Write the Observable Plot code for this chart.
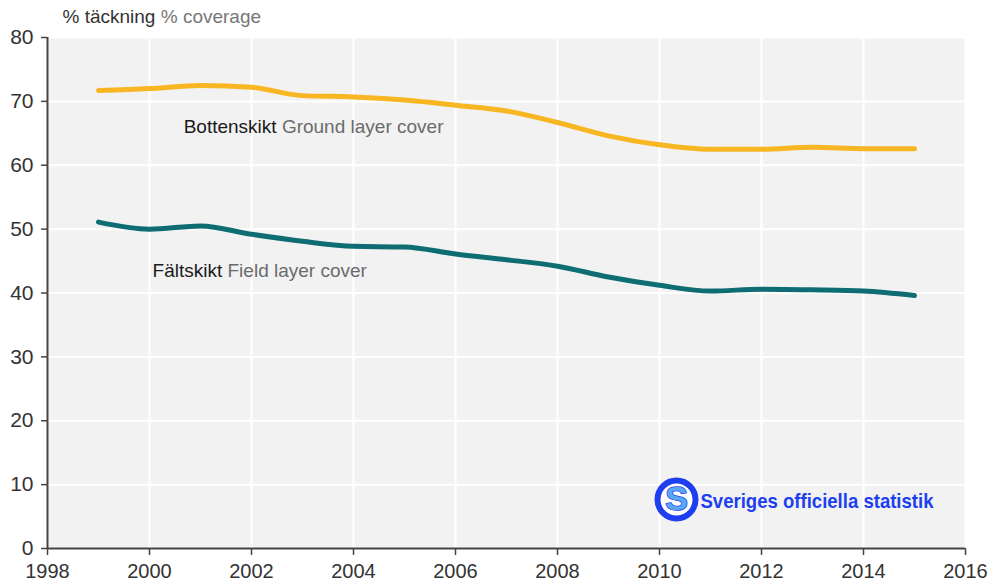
<!DOCTYPE html>
<html>
<head>
<meta charset="utf-8">
<script src="https://cdn.jsdelivr.net/npm/d3@7"></script>
<script src="https://cdn.jsdelivr.net/npm/@observablehq/plot@0.6"></script>
<style>
  html, body { margin: 0; padding: 0; background: #ffffff; }
  #chart svg { display: block; }
</style>
</head>
<body>
<div id="chart"></div>
<script>
const years = [1999, 2000, 2001, 2002, 2003, 2004, 2005, 2006, 2007, 2008, 2009, 2010, 2011, 2012, 2013, 2014, 2015];
const ground = [71.7, 72.0, 72.5, 72.2, 70.9, 70.7, 70.2, 69.4, 68.5, 66.7, 64.6, 63.2, 62.5, 62.5, 62.8, 62.6, 62.6];
const field = [51.1, 50.0, 50.5, 49.2, 48.1, 47.3, 47.2, 46.1, 45.2, 44.2, 42.5, 41.2, 40.3, 40.6, 40.5, 40.3, 39.6];
const xTicks = [1998, 2000, 2002, 2004, 2006, 2008, 2010, 2012, 2014, 2016];
const yTicks = [0, 10, 20, 30, 40, 50, 60, 70, 80];
const titleSv = "% täckning";
const titleEn = "% coverage";
const labels = [
  {sv: "Bottenskikt", en: "Ground layer cover", year: 2000.67, value: 66.0},
  {sv: "Fältskikt", en: "Field layer cover", year: 2000.06, value: 43.5}
];
const logoText = "Sveriges officiella statistik";

const FONT = "'Liberation Sans', Arial, Helvetica, sans-serif";
const ctx = document.createElement("canvas").getContext("2d");
function tw(s, size, weight) {
  ctx.font = `${weight || "normal"} ${size}px ${FONT}`;
  return ctx.measureText(s).width;
}
const labelSize = 19;
const space = tw(" ", labelSize);

const groundData = years.map((y, i) => ({year: y, value: ground[i]}));
const fieldData = years.map((y, i) => ({year: y, value: field[i]}));

const plot = Plot.plot({
  width: 994,
  height: 585,
  marginLeft: 47,
  marginRight: 29,
  marginTop: 37,
  marginBottom: 37,
  style: {fontFamily: FONT, background: "#ffffff"},
  x: {domain: [1998, 2016], ticks: xTicks, tickFormat: d => String(d)},
  y: {domain: [0, 80], ticks: yTicks},
  marks: [
    Plot.frame({fill: "#f2f2f2", stroke: "#cccccc", strokeWidth: 1}),
    Plot.gridX(xTicks, {stroke: "#ffffff", strokeOpacity: 1, strokeWidth: 2}),
    Plot.gridY(yTicks, {stroke: "#ffffff", strokeOpacity: 1, strokeWidth: 2}),
    Plot.ruleX([1998], {stroke: "#444444", strokeWidth: 2}),
    Plot.ruleY([0], {stroke: "#444444", strokeWidth: 2}),
    Plot.axisX(xTicks, {tickSize: 7, tickPadding: 8, fontSize: 20, fill: "#333333", stroke: "#444444", strokeWidth: 1.5, tickFormat: d => String(d), label: null}),
    Plot.axisY(yTicks, {tickSize: 6, tickPadding: 8, fontSize: 21, fill: "#333333", stroke: "#444444", strokeWidth: 1.5, label: null}),
    Plot.line(groundData, {x: "year", y: "value", stroke: "#f8b623", strokeWidth: 5, curve: "monotone-x"}),
    Plot.line(fieldData, {x: "year", y: "value", stroke: "#0e6d73", strokeWidth: 5, curve: "monotone-x"}),
    Plot.text(labels, {x: "year", y: "value", text: "sv", textAnchor: "start", fontSize: labelSize, fill: "#1a1a1a"}),
    Plot.text(labels, {x: "year", y: "value", text: "en", textAnchor: "start", fontSize: labelSize, fill: "#6b6b6b"}),
    Plot.text([titleSv], {frameAnchor: "top-left", textAnchor: "start", lineAnchor: "middle", dx: 15, dy: -21, fontSize: labelSize, fill: "#333333"}),
    Plot.text([titleEn], {frameAnchor: "top-left", textAnchor: "start", lineAnchor: "middle", dx: 15 + tw(titleSv, labelSize) + space, dy: -21, fontSize: labelSize, fill: "#777777"}),
    Plot.dot([0], {frameAnchor: "bottom-right", dx: -289, dy: -49, r: 19, fill: "#ffffff", stroke: "#1d3ff0", strokeWidth: 6}),
    Plot.text(["S"], {frameAnchor: "bottom-right", textAnchor: "middle", lineAnchor: "middle", dx: -289, dy: -49, fontSize: 34, fontWeight: "bold", fill: "#5aa8f5", stroke: "#1d3ff0", strokeWidth: 1.5}),
    Plot.text([logoText], {frameAnchor: "bottom-right", textAnchor: "start", lineAnchor: "middle", dx: -265, dy: -47, fontSize: 21, fontWeight: "bold", fill: "#1d3ff0", fontFamily: FONT})
  ]
});

const textGroups = plot.querySelectorAll("g[aria-label='text']");
// shift English part of each label by the measured width of the Swedish part
textGroups[1].querySelectorAll("text").forEach((t, i) => {
  const dx = tw(labels[i].sv, labelSize) + space;
  const tr = t.getAttribute("transform") || "";
  t.setAttribute("transform", tr + ` translate(${dx},0)`);
});
// condensed logo wordmark
const logo = textGroups[textGroups.length - 1].querySelector("text");
logo.setAttribute("textLength", "233");
logo.setAttribute("lengthAdjust", "spacingAndGlyphs");

document.getElementById("chart").appendChild(plot);
</script>
</body>
</html>
